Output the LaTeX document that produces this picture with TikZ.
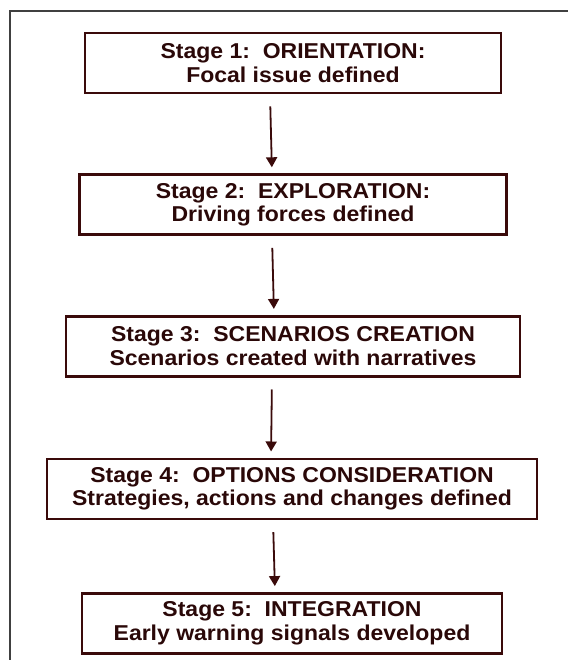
\documentclass[tikz,border=0pt]{standalone}
\usepackage{fontspec}
\setmainfont{Liberation Sans}[FakeStretch=1.07]
\usepackage{tikz}
\usetikzlibrary{arrows.meta, positioning}
\definecolor{stageBrown}{HTML}{3A0A0A}
\definecolor{stageText}{HTML}{2A0808}
\definecolor{frameGrey}{HTML}{404040}
\newcommand{\stagetext}[2]{\textbf{#1}\\\textbf{#2}}

\begin{document}
\begin{tikzpicture}[x=1pt, y=-1pt,
    stagebox/.style={draw=stageBrown, line width=2.6pt, minimum height=60pt,
      inner sep=0pt, align=center, text=stageText,
      font=\fontsize{21.5}{23.5}\selectfont},
    flow/.style={draw=stageBrown, line width=1.8pt,
      -{Triangle[length=10pt, width=11pt]}, shorten <=12pt, shorten >=6pt},
    node distance=79pt]
  \useasboundingbox (0,0) rectangle (567,660);
  % outer frame, open to the right and below
  \draw[frameGrey, line width=1.2pt] (10,670) -- (10,11) -- (580,11);

  \node[stagebox, minimum width=416pt] (s1) at (293,63)
    {\stagetext{Stage 1:~~ORIENTATION:}{Focal issue defined}};
  \node[stagebox, minimum width=427pt, below=of s1] (s2)
    {\stagetext{Stage 2:~~EXPLORATION:}{Driving forces defined}};
  \node[stagebox, minimum width=454pt, below=of s2] (s3)
    {\stagetext{Stage 3:~~SCENARIOS CREATION}{Scenarios created with narratives}};
  \node[stagebox, minimum width=490pt, below=80pt of s3, xshift=-1pt] (s4)
    {\stagetext{Stage 4:~~OPTIONS CONSIDERATION}{Strategies, actions and changes defined}};
  \node[stagebox, minimum width=420pt, below=72pt of s4] (s5)
    {\stagetext{Stage 5:~~INTEGRATION}{Early warning signals developed}};

  % arrows sit left of the box centres
  \draw[flow] ([xshift=-23pt]s1.south) -- ([xshift=-21pt]s2.north);
  \draw[flow] ([xshift=-21pt]s2.south) -- ([xshift=-19pt]s3.north);
  \draw[flow] ([xshift=-21pt]s3.south) -- ([xshift=-21pt]s4.north);
  \draw[flow] ([xshift=-19pt]s4.south) -- ([xshift=-17pt]s5.north);
\end{tikzpicture}
\end{document}
